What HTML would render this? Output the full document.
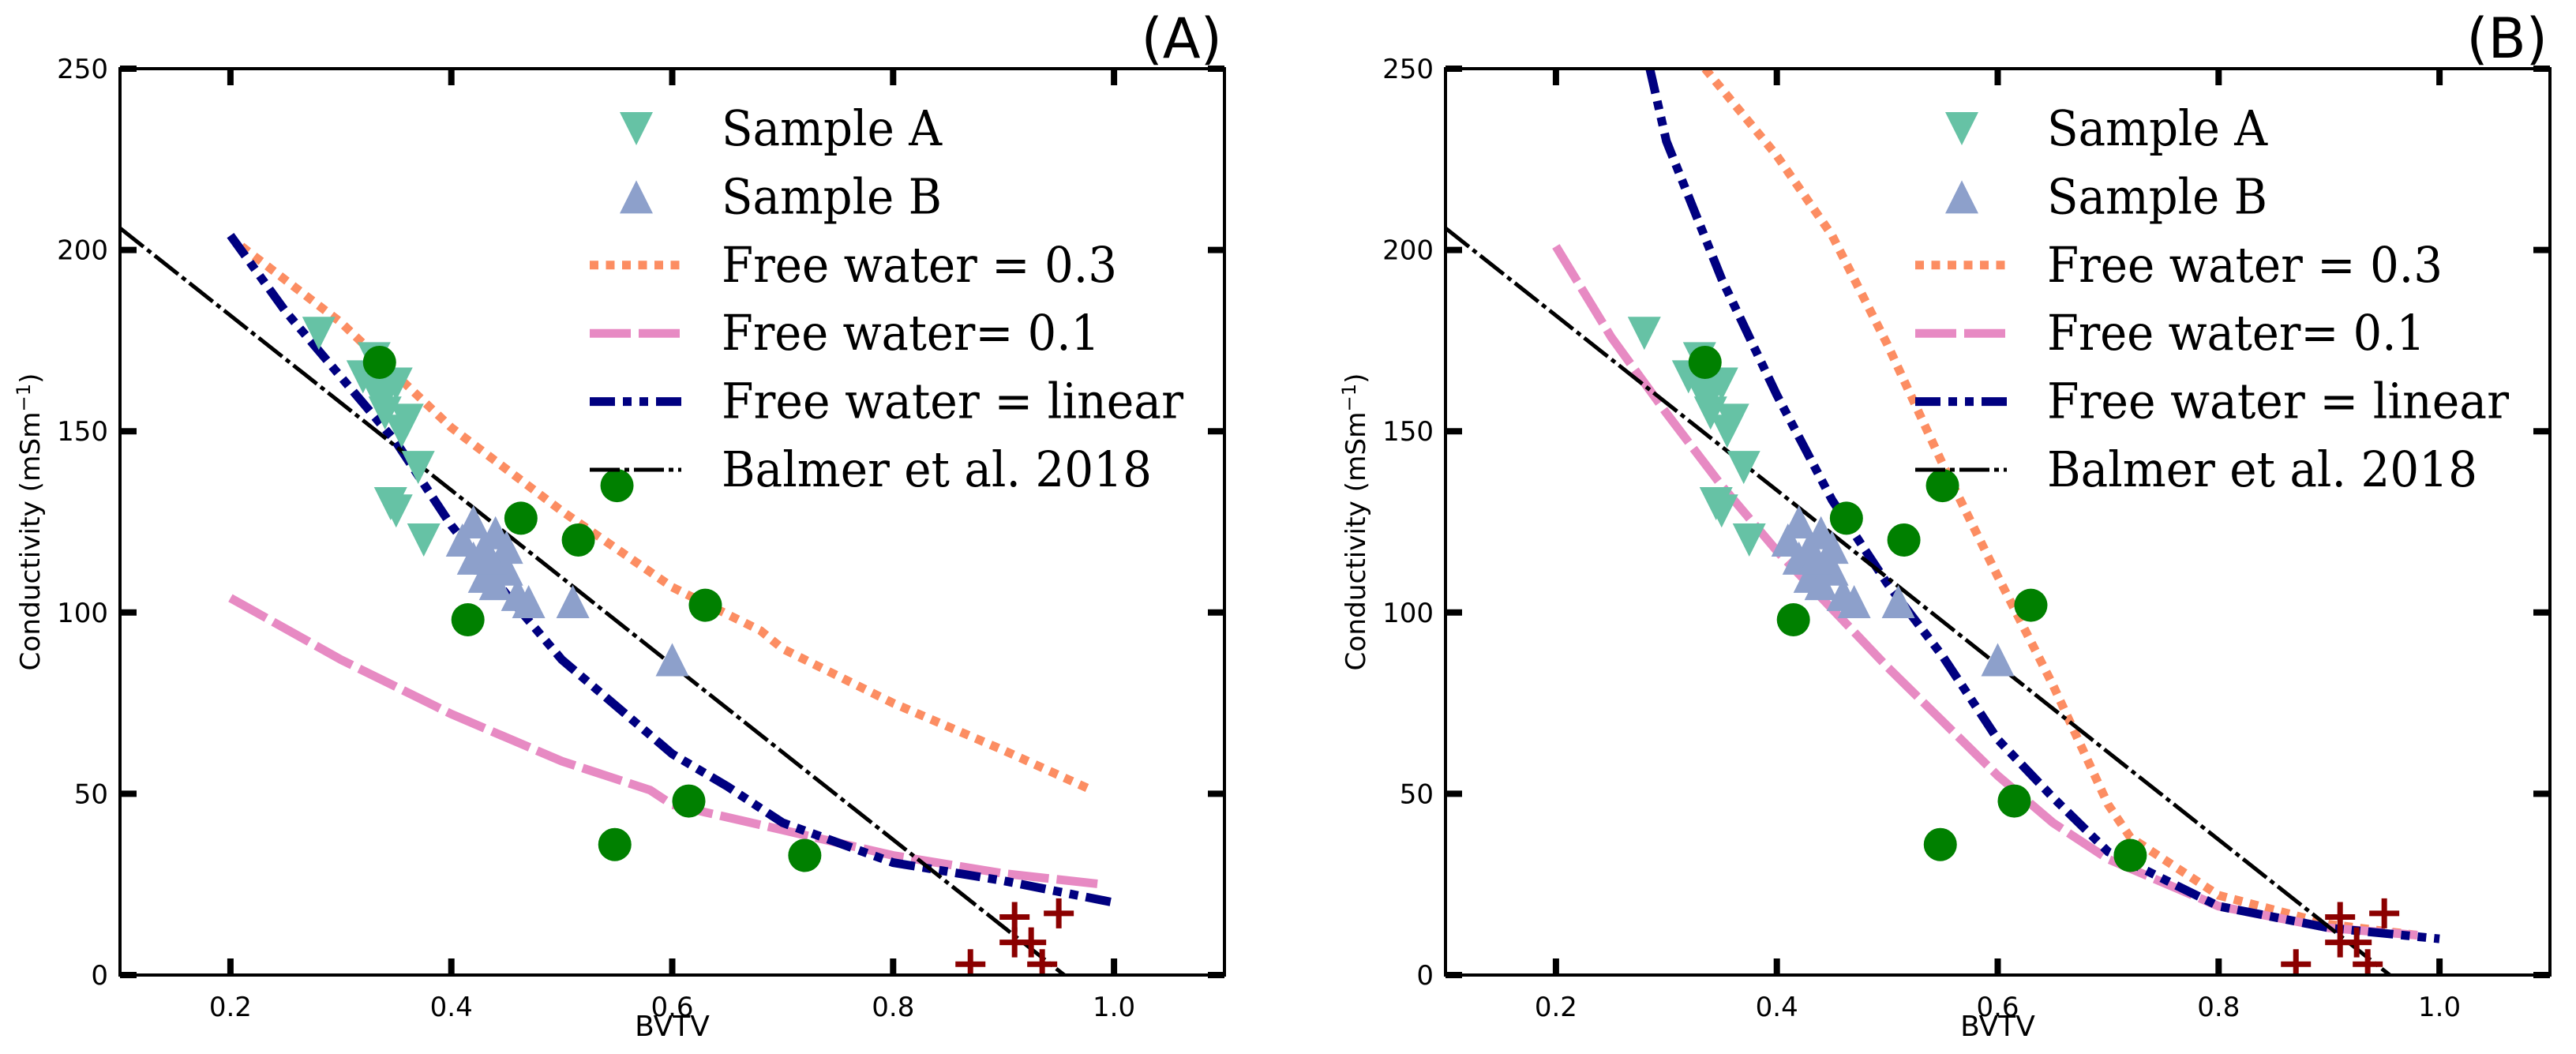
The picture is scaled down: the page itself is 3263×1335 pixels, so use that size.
<!DOCTYPE html>
<html><head><meta charset="utf-8">
<style>
html,body{margin:0;padding:0;background:#fff;}
svg{display:block;}
</style></head>
<body>
<svg id="fig" xmlns="http://www.w3.org/2000/svg" width="3263" height="1335" viewBox="0 0 3263 1335"></svg>
<script>
// ---- data ----
const xTicks = [0.2, 0.4, 0.6, 0.8, 1.0];
const xTickLabels = ["0.2", "0.4", "0.6", "0.8", "1.0"];
const yTicks = [0, 50, 100, 150, 200, 250];
const yTickLabels = ["0", "50", "100", "150", "200", "250"];

const sampleAX = [0.28, 0.32, 0.33, 0.34, 0.35, 0.34, 0.36, 0.355, 0.37, 0.345, 0.35, 0.375, 0.33];
const sampleAY = [177, 165, 170, 160, 163, 155, 153, 150, 140, 130, 128, 120, 162];
const sampleBX = [0.41, 0.42, 0.43, 0.44, 0.45, 0.43, 0.44, 0.46, 0.47, 0.45, 0.51, 0.60, 0.42, 0.435];
const sampleBY = [120, 125, 118, 122, 118, 110, 108, 105, 103, 112, 103, 87, 115, 115];
const circleX = [0.335, 0.415, 0.463, 0.515, 0.55, 0.548, 0.615, 0.63, 0.72];
const circleY = [169, 98, 126, 120, 135, 36, 48, 102, 33];
const crossX = [0.87, 0.91, 0.91, 0.925, 0.935, 0.95];
const crossY = [3, 9, 16, 9, 3, 17];

const balmerX = [0.1, 0.955];
const balmerY = [206, 0];

// Panel A models
const a03X = [0.21, 0.3, 0.4, 0.5, 0.6, 0.68, 0.7, 0.8, 0.9, 0.98];
const a03Y = [201, 180, 151, 128, 107, 95, 90, 75, 62, 51];
const a01X = [0.2, 0.3, 0.4, 0.5, 0.58, 0.6, 0.7, 0.8, 0.9, 0.99];
const a01Y = [104, 87, 72, 59, 51, 47, 40, 33, 28, 25];
const aLinX = [0.2, 0.25, 0.3, 0.35, 0.4, 0.45, 0.5, 0.55, 0.6, 0.65, 0.7, 0.8, 0.9, 1.0];
const aLinY = [204, 183, 165, 147, 124, 105, 87, 74, 61, 52, 42, 31, 26, 20];

// Panel B models
const b03X = [0.335, 0.4, 0.45, 0.5, 0.55, 0.6, 0.65, 0.7, 0.72, 0.8, 0.9, 0.98];
const b03Y = [250, 226, 204, 174, 141, 110, 80, 47, 38, 22, 14, 11];
const b01X = [0.2, 0.25, 0.3, 0.35, 0.4, 0.45, 0.5, 0.55, 0.6, 0.65, 0.7, 0.8, 0.9, 0.98];
const b01Y = [201, 176, 155, 135, 117, 101, 85, 70, 55, 42, 32, 19, 13, 11];
const bLinX = [0.285, 0.3, 0.35, 0.4, 0.45, 0.5, 0.55, 0.6, 0.65, 0.7, 0.8, 0.9, 1.0];
const bLinY = [250, 230, 192, 160, 131, 108, 88, 65, 49, 34, 19, 13, 10];

const legendLabels = ["Sample A", "Sample B", "Free water = 0.3", "Free water= 0.1", "Free water = linear", "Balmer et al. 2018"];
const legendWidths = [279, 279, 501, 479, 585, 545];

const C = {A:"#66c2a5", B:"#8da0cb", o:"#fc8d62", p:"#e78ac3", n:"#000080", g:"#008000", r:"#8b0000"};
const NS = "http://www.w3.org/2000/svg";
const svg = document.getElementById("fig");
function mk(tag, attrs, parent){
  const e = document.createElementNS(NS, tag);
  for (const k in attrs) e.setAttribute(k, attrs[k]);
  (parent||svg).appendChild(e);
  return e;
}

function panel(left, label, d03x, d03y, d01x, d01y, dlx, dly, pname){
  const right = left + 1399, top = 87, bottom = 1235;
  const sx = v => left + (v - 0.1) * 1399;
  const sy = v => bottom - v * (bottom - top) / 250;
  const g = mk("g", {});
  
  
  const clipId = pname + "-clip";
  const cp = mk("clipPath", {id: clipId}, g);
  mk("rect", {x:left, y:top, width:1399, height:bottom-top}, cp);
  const plot = mk("g", {"clip-path":"url(#"+clipId+")"}, g);
  
  

  function line(xs, ys, color, w, dash, name){
    const pts = xs.map((x,i)=>sx(x).toFixed(1)+","+sy(ys[i]).toFixed(1)).join(" ");
    const el = mk("polyline", {points:pts, fill:"none", stroke:color, "stroke-width":w, "stroke-dasharray":dash}, plot);
    
    
  }
  line(d03x, d03y, C.o, 11, "11 9.5", "free-water-0.3-line");
  line(d01x, d01y, C.p, 11, "52 10", "free-water-0.1-line");
  line(dlx, dly, C.n, 11, "32 10 11 10 11 10", "free-water-linear-line");
  line(balmerX, balmerY, "#000", 5, "38 6 6 6", "balmer-2018-line");

  sampleAX.forEach((x,i)=>{
    const cx=sx(x), cy=sy(sampleAY[i]);
    const el = mk("polygon", {points:`${cx-21},${cy-21} ${cx+21},${cy-21} ${cx},${cy+21}`, fill:C.A}, plot);
    
    
  });
  sampleBX.forEach((x,i)=>{
    const cx=sx(x), cy=sy(sampleBY[i]);
    const el = mk("polygon", {points:`${cx-21},${cy+21} ${cx+21},${cy+21} ${cx},${cy-21}`, fill:C.B}, plot);
    
    
  });
  circleX.forEach((x,i)=>{
    const el = mk("circle", {cx:sx(x), cy:sy(circleY[i]), r:21, fill:C.g}, plot);
    
    
  });
  crossX.forEach((x,i)=>{
    const cx=sx(x), cy=sy(crossY[i]);
    const el = mk("path", {d:`M${cx-19},${cy}H${cx+19}M${cx},${cy-19}V${cy+19}`, stroke:C.r, "stroke-width":7}, plot);
    
    
  });

  // frame
  const fr = mk("rect", {x:left, y:top, width:1399, height:bottom-top, fill:"none", stroke:"#000", "stroke-width":4}, g);
  
  

  xTicks.forEach((t,i)=>{
    const x = sx(t);
    mk("line", {x1:x, x2:x, y1:bottom, y2:bottom-21, stroke:"#000", "stroke-width":8}, g);
    mk("line", {x1:x, x2:x, y1:top, y2:top+21, stroke:"#000", "stroke-width":8}, g);
    const tx = mk("text", {x:x, y:bottom+52, "text-anchor":"middle", "font-size":34, "font-family":"DejaVu Sans, Liberation Sans, sans-serif"}, g);
    tx.textContent = xTickLabels[i];
    
    
  });
  yTicks.forEach((t,i)=>{
    const y = sy(t);
    mk("line", {x1:left, x2:left+21, y1:y, y2:y, stroke:"#000", "stroke-width":8}, g);
    mk("line", {x1:right, x2:right-21, y1:y, y2:y, stroke:"#000", "stroke-width":8}, g);
    const tx = mk("text", {x:left-15, y:y+12, "text-anchor":"end", "font-size":34, "font-family":"DejaVu Sans, Liberation Sans, sans-serif"}, g);
    tx.textContent = yTickLabels[i];
    
    
  });

  const xl = mk("text", {x:(left+right)/2, y:1312, "text-anchor":"middle", "font-size":36, "font-family":"DejaVu Sans, Liberation Sans, sans-serif"}, g);
  xl.textContent = "BVTV";
  
  

  const yl = mk("text", {x:0, y:0, transform:`translate(${left-102},661) rotate(-90)`, "text-anchor":"middle", "font-size":34, "font-family":"DejaVu Sans, Liberation Sans, sans-serif", textLength:377, lengthAdjust:"spacingAndGlyphs"}, g);
  yl.innerHTML = 'Conductivity (mSm<tspan dy="-12" font-size="24">−1</tspan><tspan dy="12">)</tspan>';
  
  

  const pl = mk("text", {x:right-3, y:73, "text-anchor":"end", "font-size":70, "font-family":"DejaVu Sans, Liberation Sans, sans-serif"}, g);
  pl.textContent = label;
  
  

  // legend
  const lg = mk("g", {}, g);
  
  
  const mx = left + 654, hx1 = left + 595, hx2 = left + 711, txX = left + 762;
  const styles = [
    null, null,
    [C.o, 11, "11 9.5"], [C.p, 11, "52 10"], [C.n, 11, "32 10 11 10 11 10"], ["#000", 5, "38 6 6 6"]
  ];
  legendLabels.forEach((lab,i)=>{
    const y = 163 + i*86.4;
    const e = mk("g", {}, lg);
    
    
    if (i===0) mk("polygon", {points:`${mx-21},${y-21} ${mx+21},${y-21} ${mx},${y+21}`, fill:C.A}, e);
    else if (i===1) mk("polygon", {points:`${mx-21},${y+21} ${mx+21},${y+21} ${mx},${y-21}`, fill:C.B}, e);
    else { const s = styles[i]; mk("line", {x1:hx1, x2:hx2, y1:y, y2:y, stroke:s[0], "stroke-width":s[1], "stroke-dasharray":s[2]}, e); }
    const t = mk("text", {x:txX, y:y+21, "font-size":62, "font-family":"DejaVu Serif, Liberation Serif, serif", textLength:legendWidths[i], lengthAdjust:"spacingAndGlyphs"}, e);
    t.textContent = lab;
  });
}
panel(152, "(A)", a03X, a03Y, a01X, a01Y, aLinX, aLinY, "panel-a");
panel(1831, "(B)", b03X, b03Y, b01X, b01Y, bLinX, bLinY, "panel-b");
</script>
</body></html>
